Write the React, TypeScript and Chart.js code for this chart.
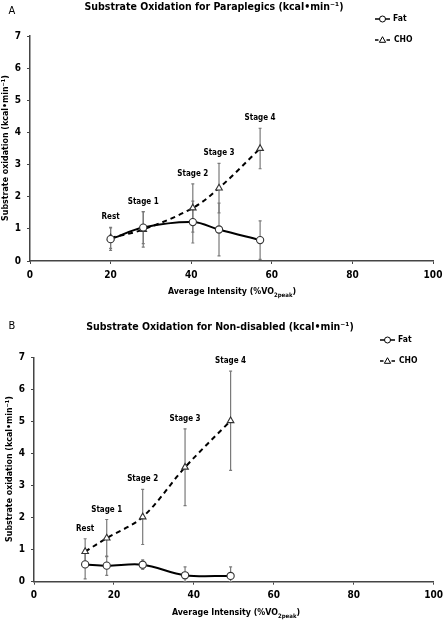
import React, { useEffect, useRef } from "react";
import { Chart, registerables } from "chart.js";
Chart.register(...registerables);

const stageLabels = ["Rest", "Stage 1", "Stage 2", "Stage 3", "Stage 4"];

// Panel A: Paraplegics
const paraX = [20, 28.1, 40.4, 46.9, 57.1];
const paraFat = [0.68, 1.04, 1.21, 0.98, 0.65];
const paraFatErr = [0.35, 0.5, 0.65, 0.82, 0.6];
const paraCHO = [0.72, 0.98, 1.65, 2.27, 3.5];
const paraCHOErr = [0.33, 0.55, 0.75, 0.77, 0.63];

// Panel B: Non-disabled
const nonX = [12.8, 18.2, 27.2, 37.8, 49.2];
const nonFat = [0.54, 0.5, 0.53, 0.2, 0.18];
const nonFatErr = [0.45, 0.3, 0.15, 0.26, 0.28];
const nonCHO = [0.94, 1.36, 2.02, 3.57, 5.02];
const nonCHOErr = [0.4, 0.58, 0.86, 1.2, 1.55];

const xMin = 0, xMax = 100, xStep = 20;
const yMin = 0, yMax = 7, yStep = 1;

const FONT = "'DejaVu Sans Condensed', 'DejaVu Sans', sans-serif";

type Panel = {
  letter: string;
  title: string;
  x: number[];
  fat: number[];
  fatErr: number[];
  cho: number[];
  choErr: number[];
  height: number;
  padTop: number;
  padRight: number;
  yWidth: number;
  xHeight: number;
  titleX: number;
  titleY: number;
  letterX: number;
  letterY: number;
  legendX: number;
  legendY: number;
  yTitleX: number;
  yTitleY: number;
  xTitleX: number;
  xTitleY: number;
};

const panels: Panel[] = [
  {
    letter: "A",
    title: "Substrate Oxidation for Paraplegics (kcal\u2022min\u207B\u00B9)",
    x: paraX, fat: paraFat, fatErr: paraFatErr, cho: paraCHO, choErr: paraCHOErr,
    height: 305, padTop: 36, padRight: 15, yWidth: 30, xHeight: 44,
    titleX: 214, titleY: 7, letterX: 12, letterY: 11,
    legendX: 375, legendY: 19,
    yTitleX: 6, yTitleY: 148, xTitleX: 232, xTitleY: 292,
  },
  {
    letter: "B",
    title: "Substrate Oxidation for Non-disabled (kcal\u2022min\u207B\u00B9)",
    x: nonX, fat: nonFat, fatErr: nonFatErr, cho: nonCHO, choErr: nonCHOErr,
    height: 316, padTop: 52.3, padRight: 9, yWidth: 34, xHeight: 39.3,
    titleX: 220, titleY: 22, letterX: 12, letterY: 21,
    legendX: 380, legendY: 35,
    yTitleX: 10, yTitleY: 164, xTitleX: 236, xTitleY: 308,
  },
];

function drawTriangle(ctx: CanvasRenderingContext2D, x: number, y: number, r: number) {
  ctx.beginPath();
  ctx.moveTo(x, y - r);
  ctx.lineTo(x + r * 0.95, y + r * 0.7);
  ctx.lineTo(x - r * 0.95, y + r * 0.7);
  ctx.closePath();
  ctx.fillStyle = "#fff";
  ctx.fill();
  ctx.stroke();
}

function makePlugin(p: Panel) {
  return {
    id: "extras" + p.letter,
    beforeDatasetsDraw(chart: any) {
      const ctx = chart.ctx as CanvasRenderingContext2D;
      const xs = chart.scales.x, ys = chart.scales.y;
      ctx.save();
      ctx.strokeStyle = "#7a7a7a";
      ctx.lineWidth = 1.2;
      const cap = 1.5;
      const bars = (vals: number[], errs: number[]) => {
        vals.forEach((v, i) => {
          const px = xs.getPixelForValue(p.x[i]);
          const top = ys.getPixelForValue(v + errs[i]);
          const bot = ys.getPixelForValue(Math.max(v - errs[i], 0));
          ctx.beginPath();
          ctx.moveTo(px, top); ctx.lineTo(px, bot);
          ctx.moveTo(px - cap, top); ctx.lineTo(px + cap, top);
          ctx.moveTo(px - cap, bot); ctx.lineTo(px + cap, bot);
          ctx.stroke();
        });
      };
      bars(p.fat, p.fatErr);
      bars(p.cho, p.choErr);
      ctx.restore();
    },
    afterDraw(chart: any) {
      const ctx = chart.ctx as CanvasRenderingContext2D;
      const xs = chart.scales.x, ys = chart.scales.y;
      ctx.save();
      ctx.fillStyle = "#000";
      ctx.textBaseline = "middle";
      // stage labels
      ctx.font = `bold 8px ${FONT}`;
      ctx.textAlign = "center";
      stageLabels.forEach((s, i) => {
        const top = Math.max(p.fat[i] + p.fatErr[i], p.cho[i] + p.choErr[i]);
        const px = xs.getPixelForValue(p.x[i]);
        const py = ys.getPixelForValue(top) - 10;
        ctx.fillText(s, px, py);
      });
      // title
      ctx.font = `bold 10.5px ${FONT}`;
      ctx.fillText(p.title, p.titleX, p.titleY);
      // letter
      ctx.font = `11px ${FONT}`;
      ctx.fillText(p.letter, p.letterX, p.letterY);
      // legend
      ctx.font = `bold 8.5px ${FONT}`;
      ctx.textAlign = "left";
      ctx.strokeStyle = "#000";
      ctx.lineWidth = 1.5;
      const lx = p.legendX;
      let ly = p.legendY;
      ctx.beginPath(); ctx.moveTo(lx, ly); ctx.lineTo(lx + 15, ly); ctx.stroke();
      ctx.lineWidth = 1;
      ctx.beginPath(); ctx.arc(lx + 7.5, ly, 3, 0, Math.PI * 2);
      ctx.fillStyle = "#fff"; ctx.fill(); ctx.stroke();
      ctx.fillStyle = "#000";
      ctx.fillText("Fat", lx + 18, ly);
      ly += 21;
      ctx.lineWidth = 1.5;
      ctx.beginPath(); ctx.moveTo(lx, ly); ctx.lineTo(lx + 3.5, ly);
      ctx.moveTo(lx + 11.5, ly); ctx.lineTo(lx + 15, ly); ctx.stroke();
      ctx.lineWidth = 1;
      drawTriangle(ctx, lx + 7.5, ly, 3.3);
      ctx.fillStyle = "#000";
      ctx.fillText("CHO", lx + 19, ly);
      // y axis title
      ctx.save();
      ctx.translate(p.yTitleX, p.yTitleY);
      ctx.rotate(-Math.PI / 2);
      ctx.textAlign = "center";
      ctx.font = `bold 8.8px ${FONT}`;
      ctx.fillText("Substrate oxidation (kcal\u2022min\u207B\u00B9)", 0, 0);
      ctx.restore();
      // x axis title with subscript
      const main = "Average Intensity (%VO";
      const sub = "2peak";
      const end = ")";
      ctx.font = `bold 8.8px ${FONT}`;
      const w1 = ctx.measureText(main).width;
      const w3 = ctx.measureText(end).width;
      ctx.font = `bold 6px ${FONT}`;
      const w2 = ctx.measureText(sub).width;
      let sx = p.xTitleX - (w1 + w2 + w3) / 2;
      ctx.textAlign = "left";
      ctx.font = `bold 8.8px ${FONT}`;
      ctx.fillText(main, sx, p.xTitleY);
      sx += w1;
      ctx.font = `bold 6px ${FONT}`;
      ctx.fillText(sub, sx, p.xTitleY + 3);
      sx += w2;
      ctx.font = `bold 8.8px ${FONT}`;
      ctx.fillText(end, sx, p.xTitleY);
      ctx.restore();
    },
  };
}

function PanelChart({ p }: { p: Panel }) {
  const ref = useRef<HTMLCanvasElement | null>(null);
  useEffect(() => {
    if (!ref.current) return;
    const tickFont = { family: FONT, size: 10, weight: "bold" as const };
    const chart = new Chart(ref.current, {
      type: "line",
      data: {
        datasets: [
          {
            label: "Fat",
            data: p.x.map((x, i) => ({ x, y: p.fat[i] })),
            borderColor: "#000",
            borderWidth: 2,
            tension: 0.35,
            pointStyle: "circle",
            pointRadius: 3.6,
            pointBackgroundColor: "#fff",
            pointBorderColor: "#333",
            pointBorderWidth: 1.1,
          },
          {
            label: "CHO",
            data: p.x.map((x, i) => ({ x, y: p.cho[i] })),
            borderColor: "#000",
            borderWidth: 2,
            borderDash: [5, 4],
            tension: 0.35,
            pointStyle: "triangle",
            pointRadius: 3.8,
            pointBackgroundColor: "#fff",
            pointBorderColor: "#333",
            pointBorderWidth: 1.1,
          },
        ],
      },
      options: {
        animation: false,
        responsive: false,
        maintainAspectRatio: false,
        layout: { padding: { top: p.padTop, right: p.padRight, left: 0, bottom: 0 } },
        plugins: { legend: { display: false }, tooltip: { enabled: false }, title: { display: false } },
        scales: {
          x: {
            type: "linear",
            min: xMin, max: xMax,
            ticks: { stepSize: xStep, font: tickFont, color: "#000", padding: 5, maxRotation: 0 },
            grid: { drawOnChartArea: false, drawTicks: true, tickLength: 3, color: "#444" },
            border: { color: "#444", width: 1.5 },
            afterFit: (s: any) => { s.height = p.xHeight; },
          },
          y: {
            type: "linear",
            min: yMin, max: yMax,
            ticks: { stepSize: yStep, font: tickFont, color: "#000", padding: 6 },
            grid: { drawOnChartArea: false, drawTicks: true, tickLength: 3, color: "#444" },
            border: { color: "#444", width: 1.5 },
            afterFit: (s: any) => { s.width = p.yWidth; },
          },
        },
      } as any,
      plugins: [makePlugin(p)],
    });
    return () => chart.destroy();
  }, [p]);
  return <canvas ref={ref} width={448} height={p.height} style={{ display: "block", width: 448, height: p.height }} />;
}

export default function App() {
  useEffect(() => {
    document.body.style.margin = "0";
    document.body.style.background = "#fff";
  }, []);
  return (
    <div style={{ position: "absolute", left: 0, top: 0, width: 448, height: 621, background: "#fff" }}>
      {panels.map((p) => (
        <PanelChart key={p.letter} p={p} />
      ))}
    </div>
  );
}
